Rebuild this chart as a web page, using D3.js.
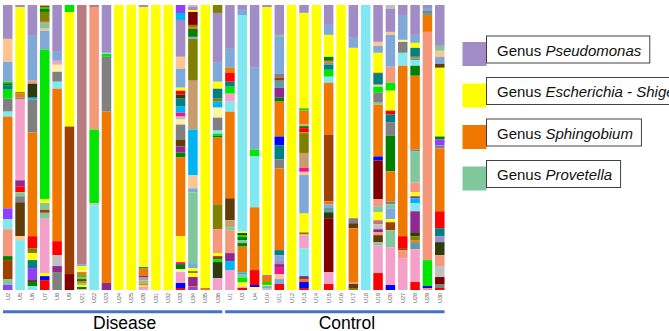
<!DOCTYPE html>
<html>
<head>
<meta charset="utf-8">
<script src="https://cdn.jsdelivr.net/npm/d3@7"></script>
<style>
  body { margin: 0; background: #fff; }
</style>
</head>
<body>
<div id="chart"></div>
<script>
// sample ids, in plot order
const disease = ["U2","U5","U6","U7","U8","U9","U21","U22","U23","U24","U25","U26","U31","U32","U33","U34","U35","U36"];
const control = ["U1","U3","U4","U10","U11","U12","U13","U14","U15","U16","U17","U18","U19","U20","U27","U28","U29","U30"];

// genera (only the first four are named in the legend)
const taxa = ["Pse","Esc","Sph","Pro","g05","g06","g07","g08","g09","g10","g11","g12","g13","g14","g15",
              "g16","g17","g18","g19","g20","g21","g22","g23","g24","g25","g26","g27","g28","g29"];

const legendTaxa = [
    { key: "Pse", name: "Pseudomonas" },
    { key: "Esc", name: "Escherichia - Shigella" },
    { key: "Sph", name: "Sphingobium" },
    { key: "Pro", name: "Provetella" }
];

// relative abundance per sample, top of bar to bottom (estimates, normalised per sample below)
const diseaseAbundance = [
    [["Pse",34],["g05",23],["g06",20],["g07",1.5],["g08",2.5],["g09",4],["g07",9],["g10",13],["g11",5],["Sph",92],["g12",11],["g11",10],["g13",27],["g08",4],["g14",19],["Pro",6],["g12",5]],
    [["Pse",2.3],["Esc",85],["g19",1.5],["Sph",4],["g10",2],["g15",81],["g21",6],["g17",6],["Pro",4],["g10",6],["g16",34],["g05",4],["g11",50]],
    [["Pse",31],["g06",45],["g13",3],["g28",14],["g22",2],["g10",33],["Sph",104],["g17",12],["g19",5],["Esc",7],["g09",8],["g12",12],["g16",2],["g08",4],["g11",4]],
    [["g13",1],["g17",1],["g07",2],["g08",3],["g19",10],["g23",2],["Pro",5],["g05",2],["g06",19],["g07",151],["Esc",4],["Pro",7],["g14",3],["Pro",6],["g15",55],["Esc",3],["g24",4],["g17",10]],
    [["Pse",47],["g06",9],["g15",4],["g25",7],["g10",10],["g11",7],["Sph",153],["g17",14],["g26",11],["g21",6],["g10",18]],
    [["g07",7],["Esc",115],["g14",148],["g18",16]],
    [["g20",260],["g06",2],["Esc",4],["g25",2],["Sph",3],["g07",2],["g23",2],["g08",2],["Sph",2],["Pro",2],["Esc",2],["g08",2],["g15",1]],
    [["g20",2],["g13",123],["g07",74],["g26",2],["g11",85]],
    [["Pse",48],["g11",1],["g07",3],["g10",55],["Sph",172],["g21",7]],
    [["Esc",285]],
    [["Esc",285]],
    [["Pse",2],["Esc",261],["g09",1.5],["Sph",7],["g21",2],["g23",3],["Pro",3],["Sph",2],["Esc",1],["g15",3.5]],
    [["Esc",285]],
    [["Esc",285]],
    [["g12",8],["g22",7],["Pse",37],["g05",12],["g06",19],["Esc",3],["g17",4],["g28",4],["g09",8],["g22",6],["g27",4],["g26",3],["g25",5],["g10",15],["g16",7],["g21",6],["g08",5],["Sph",79],["Esc",26],["g27",2],["g08",5],["g25",3],["g15",11],["g24",5],["g17",2]],
    [["g15",2],["Pse",3],["Esc",2],["g18",13],["g19",2],["Sph",2],["g08",8],["g06",2],["g19",42],["g23",49],["g22",46],["g05",13],["g06",4],["Pro",71],["g06",5],["Esc",3],["g19",2],["Esc",4],["g21",9],["Sph",1],["g12",3]],
    [["Esc",283],["Sph",2]],
    [["g19",8],["Pse",50],["g06",19],["Esc",7],["g09",10],["g19",3],["g22",6],["g25",10],["g10",13],["g11",3],["g07",2],["g08",2],["Sph",67],["g19",25],["g13",24],["Esc",3],["g14",3],["g07",3],["g28",16],["g15",12]]
];

const controlAbundance = [
    [["Pse",44],["g06",19],["Sph",5],["g17",9],["g09",5],["g07",7],["g15",8],["g11",10],["Sph",87],["g16",22],["g23",7],["Pro",3],["g13",23],["g21",8],["g22",9],["g15",20]],
    [["Pse",4],["g06",6],["g11",217],["Esc",1.5],["g28",2],["g07",2],["g08",3],["Pro",3],["g08",3.5],["Sph",26],["g22",2],["Pro",3],["g07",5],["Esc",4],["g15",1.5],["g17",2]],
    [["Pse",63],["g06",82],["g07",7],["g11",51],["Sph",63],["g17",15],["g24",2],["g25",3]],
    [["Pse",2],["Esc",268],["g20",2],["Sph",5],["g07",3],["Esc",1],["g06",2],["g26",2]],
    [["Pse",30],["Pro",2],["g06",37],["g10",4],["g14",3],["g29",7],["g21",10],["g08",4],["Sph",35],["g24",9],["g09",14],["g10",9],["Sph",82],["g09",5],["g06",5],["Pse",4],["g21",3],["g27",7],["g05",5],["g06",5],["g17",6]],
    [["Esc",285]],
    [["Pse",7],["g06",1],["Esc",96],["g07",2],["Sph",14],["g13",2],["g08",2],["g17",4],["Sph",1],["g19",20],["g23",15],["g27",4],["g05",3],["g06",39],["Esc",19],["g19",2],["g13",1],["g15",13],["g11",28],["g21",3],["Sph",3],["g24",6],["g17",2]],
    [["Esc",285]],
    [["Pse",20],["g06",10],["Esc",22],["g08",4],["Sph",2],["g29",2],["g09",5],["g07",7],["g11",6],["Sph",52],["g14",67],["Sph",3],["g06",3],["g29",5],["g28",6],["g18",54],["g15",12],["g17",6]],
    [["Esc",285]],
    [["Pse",33],["g06",10],["Esc",171],["g10",5],["g16",5],["Sph",54],["g13",2],["g16",4],["g19",2]],
    [["g11",285]],
    [["Pse",37],["g05",4],["g06",7],["Esc",20],["g16",1],["g09",11],["g05",2],["g07",6],["g10",10],["Pro",2],["Sph",52],["g24",4],["g18",39],["g13",7],["Pro",6],["Esc",8],["g20",4],["g26",5],["g21",3],["g13",3],["g16",7],["Pro",3],["g15",28],["g17",17]],
    [["g26",4],["Pse",23],["g05",3],["g06",32],["g13",16],["g07",8],["Esc",20],["g17",4],["g09",8],["g10",13],["g08",36],["Sph",30],["g10",3],["Pro",4],["g06",11],["Esc",3],["g14",8],["Pro",17],["g15",38],["g24",5]],
    [["Pse",10],["g06",25],["g25",2],["g10",11],["g11",13],["Sph",171],["g17",12],["g14",2],["g13",8],["g15",32]],
    [["Pse",30],["g06",8],["Esc",5],["g09",9],["Sph",2],["g22",1.5],["g11",5.5],["g08",10],["Sph",74],["g10",2],["Pro",31],["g13",10],["Esc",4],["g21",2],["g22",5],["g11",8],["g21",21],["g28",4],["g19",4],["Sph",2],["g29",7],["g15",33],["g17",8]],
    [["Pse",3],["g06",3],["g10",2],["g29",2],["Sph",17],["g13",229],["g07",26],["g24",2],["g13",2]],
    [["Pse",41],["Pro",5],["g05",6],["g06",7],["g16",4],["Esc",69],["g08",3],["g12",6],["g10",3],["Sph",63],["g17",17],["g09",8],["Pse",6],["g28",13],["g13",11],["g26",11],["g18",7],["g10",4],["g17",2]]
];

const palette = ["#a28cc6","#ffff00","#f07800","#80c89c","#fdc690","#80a8d8","#00e600","#008000","#008080","#808080",
                 "#80e8f0","#8f40ff","#f4977a","#a04000","#f4a0c8","#603c08","#ff0000","#800000","#808000","#b87c80",
                 "#902890","#00b4f0","#c89c6c","#0000ff","#fff49c","#c0c0c0","#f0168c","#2c3c0c","#5f9ea0"];

const width  = 669;
const height = 331;

const svg = d3.select("#chart")
              .append("svg")
              .attr("width", width)
              .attr("height", height)
              .style("font-family", "'Liberation Sans', Arial, sans-serif");

const samples   = disease.concat(control);
const abundance = diseaseAbundance.concat(controlAbundance);

const x = d3.scaleBand()
            .domain(samples)
            .range([0.5, 447])
            .paddingInner(0.23)
            .paddingOuter(0.2);

const y = d3.scaleLinear()
            .domain([0, 100])
            .range([5, 290]);

const color = d3.scaleOrdinal()
                .domain(taxa)
                .range(palette);

// stacked bars, each sample normalised to 100 %
samples.forEach((s, i) => {
    const row   = abundance[i];
    const total = d3.sum(row, d => d[1]);
    let acc = 0;
    const segs = row.map(([taxon, v]) => {
        const y0 = acc;
        acc += v / total * 100;
        return { taxon, y0, y1: acc };
    });

    svg.append("g")
       .selectAll("rect")
       .data(segs)
       .join("rect")
       .attr("x", x(s))
       .attr("width", x.bandwidth())
       .attr("y", d => y(d.y0))
       .attr("height", d => y(d.y1) - y(d.y0))
       .attr("fill", d => color(d.taxon));
});

// sample labels
svg.append("g")
   .attr("transform", "translate(0, 293)")
   .call(d3.axisBottom(x).tickSize(0))
   .call(g => g.select(".domain").remove())
   .selectAll("text")
   .attr("x", 0)
   .attr("y", 0)
   .attr("dy", "0.35em")
   .attr("transform", "rotate(-90)")
   .attr("font-size", "5.5px")
   .attr("fill", "#5a5a5a")
   .style("text-anchor", "end");

// group brackets
[{ name: "Disease", ids: disease }, { name: "Control", ids: control }].forEach(gr => {
    const x0 = x(gr.ids[0]);
    const x1 = x(gr.ids[gr.ids.length - 1]) + x.bandwidth();

    svg.append("line")
       .attr("x1", x0).attr("x2", x1)
       .attr("y1", 311.8).attr("y2", 311.8)
       .attr("stroke", "#4472c4")
       .attr("stroke-width", 3);

    svg.append("text")
       .attr("x", (x0 + x1) / 2 + 12)
       .attr("y", 329.3)
       .attr("font-size", "17.5px")
       .style("text-anchor", "middle")
       .text(gr.name);
});

// legend
const legend = svg.append("g");

legendTaxa.forEach((d, i) => {
    const top = 36 + i * 41.5;

    legend.append("rect")
          .attr("x", 462.5).attr("y", top + 6)
          .attr("width", 24).attr("height", 24)
          .attr("fill", color(d.key));

    const box = legend.append("rect")
                      .attr("x", 486.5).attr("y", top)
                      .attr("height", 27)
                      .attr("fill", "#fff")
                      .attr("stroke", "#404040")
                      .attr("stroke-width", 1);

    const t = legend.append("text")
                    .attr("x", 497)
                    .attr("y", top + 19.5)
                    .attr("font-size", "15px")
                    .attr("fill", "#111");
    t.append("tspan").text("Genus ");
    t.append("tspan").attr("font-style", "italic").text(d.name);

    box.attr("width", t.node().getComputedTextLength() + 19);
});
</script>
</body>
</html>
